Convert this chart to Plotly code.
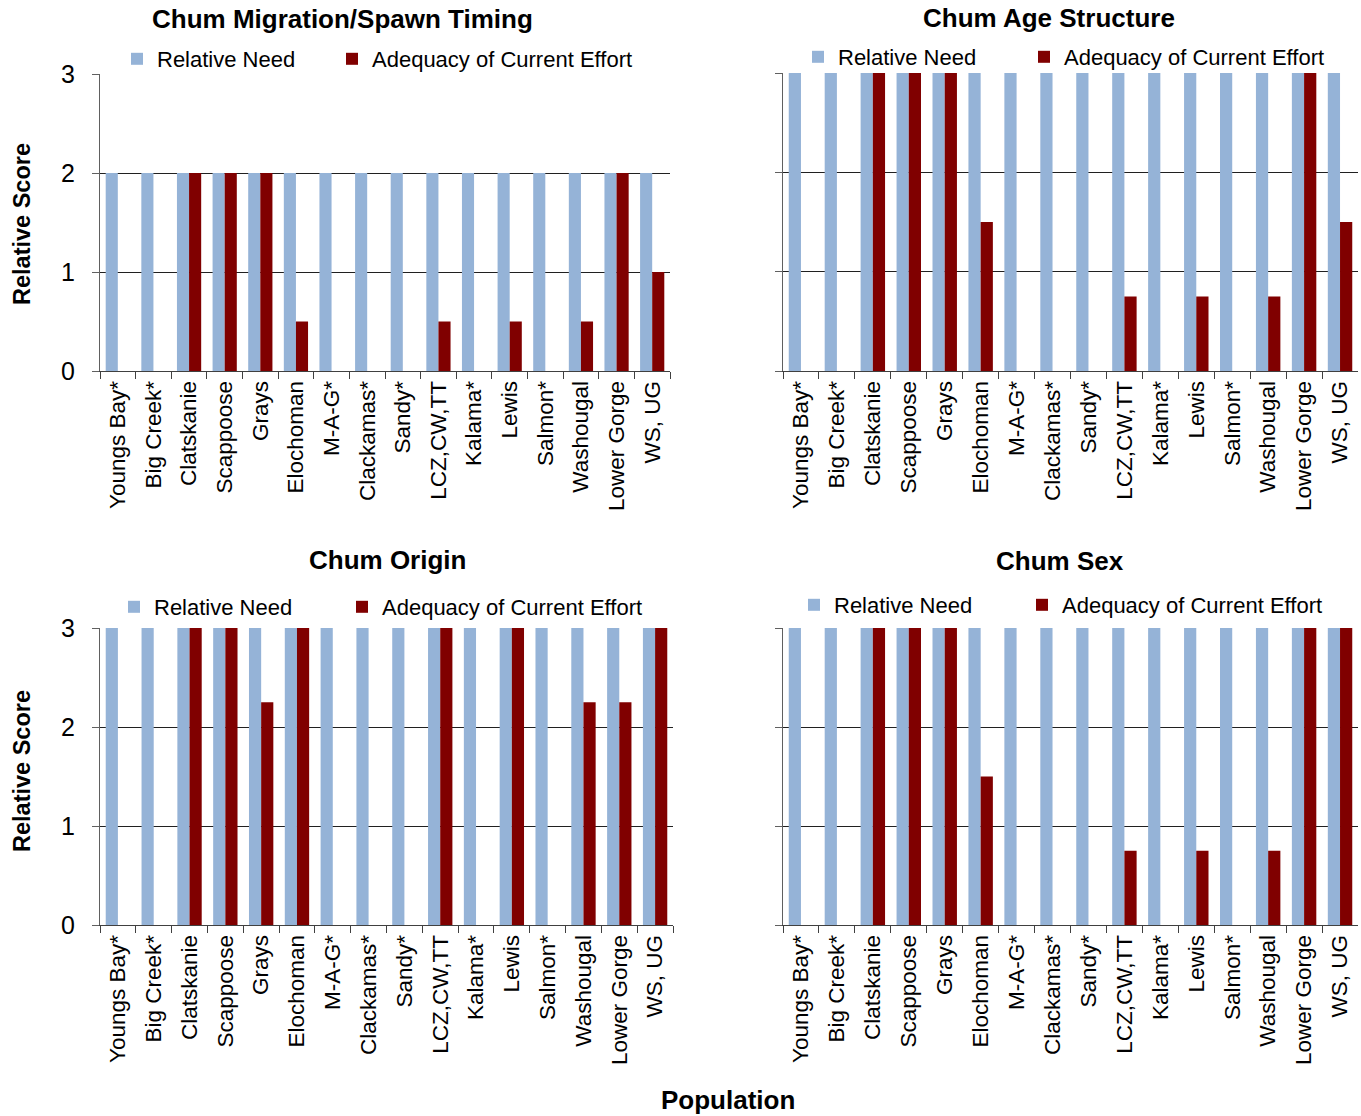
import plotly.graph_objects as go

FW, FH = 1361, 1116


def fx(px):
    return px / FW


def fy(py):
    return 1 - py / FH


populations = ["Youngs Bay*", "Big Creek*", "Clatskanie", "Scappoose", "Grays", "Elochoman",
               "M-A-G*", "Clackamas*", "Sandy*", "LCZ,CW,TT", "Kalama*", "Lewis", "Salmon*",
               "Washougal", "Lower Gorge", "WS, UG"]

timing_need = [2, 2, 2, 2, 2, 2, 2, 2, 2, 2, 2, 2, 2, 2, 2, 2]
timing_adequacy = [0, 0, 2, 2, 2, 0.5, 0, 0, 0, 0.5, 0, 0.5, 0, 0.5, 2, 1]

age_need = [3, 3, 3, 3, 3, 3, 3, 3, 3, 3, 3, 3, 3, 3, 3, 3]
age_adequacy = [0, 0, 3, 3, 3, 1.5, 0, 0, 0, 0.75, 0, 0.75, 0, 0.75, 3, 1.5]

origin_need = [3, 3, 3, 3, 3, 3, 3, 3, 3, 3, 3, 3, 3, 3, 3, 3]
origin_adequacy = [0, 0, 3, 3, 2.25, 3, 0, 0, 0, 3, 0, 3, 0, 2.25, 2.25, 3]

sex_need = [3, 3, 3, 3, 3, 3, 3, 3, 3, 3, 3, 3, 3, 3, 3, 3]
sex_adequacy = [0, 0, 3, 3, 3, 1.5, 0, 0, 0, 0.75, 0, 0.75, 0, 0.75, 3, 3]

panel_titles = ["Chum Migration/Spawn Timing", "Chum Age Structure", "Chum Origin", "Chum Sex"]
y_ticks = [0, 1, 2, 3]
series_names = ["Relative Need", "Adequacy of Current Effort"]

BLUE = "#95B3D7"
RED = "#800000"
FONT = "Liberation Sans, Arial, sans-serif"

panels = [
    dict(need=timing_need, adq=timing_adequacy, title=panel_titles[0],
         px=(100, 670), py=(74, 371), labels=True, tx=343, ty=19, icons=(131, 346), ly=59),
    dict(need=age_need, adq=age_adequacy, title=panel_titles[1],
         px=(783, 1358), py=(73, 371), labels=False, tx=1049, ty=18, icons=(812, 1038), ly=57),
    dict(need=origin_need, adq=origin_adequacy, title=panel_titles[2],
         px=(100, 673), py=(628, 925), labels=True, tx=387, ty=560, icons=(128, 356), ly=607),
    dict(need=sex_need, adq=sex_adequacy, title=panel_titles[3],
         px=(783, 1358), py=(628, 925), labels=False, tx=1060, ty=561, icons=(808, 1036), ly=605),
]

fig = go.Figure()
layout = dict(
    width=FW, height=FH, autosize=False,
    margin=dict(l=0, r=0, t=0, b=0, autoexpand=False),
    paper_bgcolor="white", plot_bgcolor="white",
    barmode="group", bargap=0.32, bargroupgap=0,
    font=dict(family=FONT, color="black"),
    annotations=[], showlegend=True,
)

for i, p in enumerate(panels):
    k = "" if i == 0 else str(i + 1)
    for j, (vals, color) in enumerate(((p["need"], BLUE), (p["adq"], RED))):
        n = 2 * i + j + 1
        lg = "legend" if n == 1 else f"legend{n}"
        fig.add_trace(go.Bar(x=populations, y=vals, name=series_names[j],
                             marker=dict(color=color, line=dict(width=0)),
                             xaxis="x" + k, yaxis="y" + k, legend=lg))
        layout[lg] = dict(
            orientation="h", x=fx(p["icons"][j] - 14), xanchor="left",
            y=fy(p["ly"]), yanchor="middle",
            font=dict(size=22, family=FONT, color="black"),
            bgcolor="rgba(0,0,0,0)", itemclick=False, itemdoubleclick=False,
        )
    layout["xaxis" + k] = dict(
        domain=[fx(p["px"][0]), fx(p["px"][1])], anchor="y" + k,
        type="category", tickson="boundaries", ticks="outside", ticklen=7,
        tickcolor="#404040", showline=True, linecolor="#404040", linewidth=1,
        tickangle=-90, tickfont=dict(size=22.5, family=FONT, color="black"),
        showgrid=False, fixedrange=True, automargin=False,
    )
    layout["yaxis" + k] = dict(
        domain=[fy(p["py"][1]), fy(p["py"][0])], anchor="x" + k,
        range=[0, 3], tickvals=y_ticks, ticks="outside", ticklen=7,
        tickcolor="#606060", showline=True, linecolor="#606060", linewidth=1,
        showgrid=True, gridcolor="#202020", gridwidth=1, zeroline=False,
        showticklabels=p["labels"], tickfont=dict(size=25, family=FONT, color="black"),
        ticklabelstandoff=12, fixedrange=True, automargin=False,
    )
    layout["annotations"].append(dict(
        text=f"<b>{p['title']}</b>", x=fx(p["tx"]), y=fy(p["ty"]),
        xref="paper", yref="paper", xanchor="center", yanchor="middle",
        showarrow=False, font=dict(size=26, family=FONT, color="black")))

for ycen in (224, 771):
    layout["annotations"].append(dict(
        text="<b>Relative Score</b>", x=fx(22), y=fy(ycen), xref="paper", yref="paper",
        xanchor="center", yanchor="middle", textangle=-90, showarrow=False,
        font=dict(size=23.5, family=FONT, color="black")))

layout["annotations"].append(dict(
    text="<b>Population</b>", x=fx(728), y=fy(1100), xref="paper", yref="paper",
    xanchor="center", yanchor="middle", showarrow=False,
    font=dict(size=26, family=FONT, color="black")))

fig.update_layout(**layout)
fig.write_html("out.html", config={"displayModeBar": False},
               post_script="document.body.style.margin='0';document.body.style.overflow='hidden';")
